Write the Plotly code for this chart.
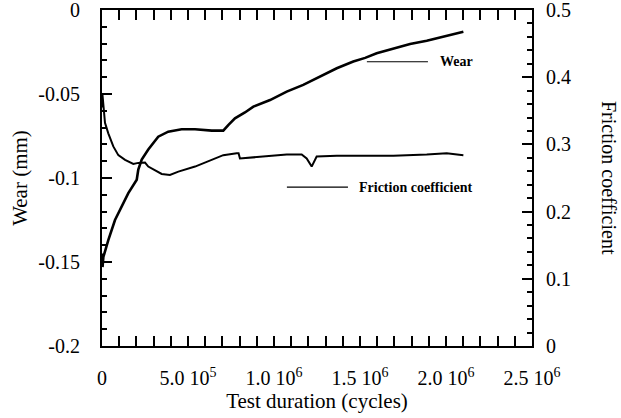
import plotly.graph_objects as go

# ---- data ----
wear_cycles = [0, 3e3, 8e3, 3.66e4, 7.56e4, 1.145e5, 1.53e5, 2.02e5, 2.06e5, 2.11e5, 2.31e5,
               2.69e5, 3.27e5, 3.85e5, 4.63e5, 5.41e5, 6.38e5, 7.05e5, 7.34e5, 7.73e5, 8.31e5,
               8.8e5, 9.77e5, 1.074e6, 1.17e6, 1.267e6, 1.365e6, 1.461e6, 1.53e6, 1.597e6,
               1.694e6, 1.791e6, 1.888e6, 1.984e6, 2.062e6, 2.101e6]
wear_mm = [-0.145, -0.153, -0.147, -0.137, -0.125, -0.117, -0.109, -0.101, -0.097, -0.095,
           -0.089, -0.083, -0.0754, -0.0724, -0.071, -0.071, -0.0718, -0.0718, -0.0685,
           -0.0645, -0.061, -0.0575, -0.0536, -0.0486, -0.0446, -0.0397, -0.0347, -0.0307,
           -0.0285, -0.0258, -0.0228, -0.0202, -0.0183, -0.0159, -0.0139, -0.0129]

friction_cycles = [0, 2e3, 1.74e4, 3.66e4, 6.57e4, 9.48e4, 1.34e5, 1.82e5, 2.11e5, 2.5e5,
                   2.69e5, 3.18e5, 3.47e5, 3.95e5, 4.44e5, 5.41e5, 6.38e5, 7.05e5, 7.83e5,
                   7.94e5, 8.02e5, 8.8e5, 9.77e5, 1.074e6, 1.161e6, 1.19e6, 1.219e6, 1.248e6,
                   1.365e6, 1.548e6, 1.694e6, 1.888e6, 2.004e6, 2.101e6]
friction_coef = [0.355, 0.376, 0.332, 0.3165, 0.297, 0.284, 0.277, 0.271, 0.2725, 0.273,
                 0.267, 0.2595, 0.256, 0.2545, 0.2595, 0.267, 0.277, 0.284, 0.287,
                 0.287, 0.279, 0.281, 0.283, 0.285, 0.285, 0.279, 0.267, 0.282,
                 0.283, 0.283, 0.283, 0.285, 0.287, 0.284]

x_tickvals = [0, 5e5, 1e6, 1.5e6, 2e6, 2.5e6]
x_ticktext = ["0", "5.0 10<sup>5</sup>", "1.0 10<sup>6</sup>", "1.5 10<sup>6</sup>",
              "2.0 10<sup>6</sup>", "2.5 10<sup>6</sup>"]
y_tickvals = [0, -0.05, -0.1, -0.15, -0.2]
y_ticktext = ["0", "-0.05", "-0.1", "-0.15", "-0.2"]
y2_tickvals = [0, 0.1, 0.2, 0.3, 0.4, 0.5]
y2_ticktext = ["0", "0.1", "0.2", "0.3", "0.4", "0.5"]

FONT = "Liberation Serif, Times New Roman, serif"

fig = go.Figure()
fig.add_trace(go.Scatter(x=wear_cycles, y=wear_mm, mode="lines",
                         line=dict(color="black", width=2.6), yaxis="y", showlegend=False))
fig.add_trace(go.Scatter(x=friction_cycles, y=friction_coef, mode="lines",
                         line=dict(color="black", width=2), yaxis="y2", showlegend=False))

axis_common = dict(showline=True, linecolor="black", linewidth=2, ticks="inside",
                   tickcolor="black", tickwidth=1.5, ticklen=10, showgrid=False,
                   zeroline=False, automargin=False, ticklabeloverflow="allow",
                   tickfont=dict(family=FONT, size=20, color="black"))

fig.update_layout(
    width=621, height=418,
    margin=dict(l=102, r=89, t=10, b=72),
    paper_bgcolor="white", plot_bgcolor="white",
    xaxis=dict(range=[0, 2.5e6], tickmode="array", tickvals=x_tickvals, ticktext=x_ticktext,
               mirror="allticks", ticklabelstandoff=13,
               minor=dict(tickmode="linear", tick0=0, dtick=1e5, ticks="inside", ticklen=5,
                          tickcolor="black", tickwidth=1.5),
               title=dict(text="Test duration (cycles)", font=dict(family=FONT, size=21, color="black"),
                          standoff=0),
               **axis_common),
    yaxis=dict(range=[-0.2, 0], tickmode="array", tickvals=y_tickvals, ticktext=y_ticktext,
               ticklabelstandoff=16,
               minor=dict(tickmode="linear", tick0=0, dtick=0.01, ticks="inside", ticklen=5,
                          tickcolor="black", tickwidth=1.5),
               title=dict(text="Wear (mm)", font=dict(family=FONT, size=21, color="black"),
                          standoff=5),
               **axis_common),
    yaxis2=dict(range=[0, 0.5], overlaying="y", side="right", tickmode="array",
                tickvals=y2_tickvals, ticktext=y2_ticktext, ticklabelstandoff=8,
                minor=dict(tickmode="linear", tick0=0, dtick=0.02, ticks="inside", ticklen=5,
                           tickcolor="black", tickwidth=1.5),
                **axis_common),
    annotations=[
        dict(text="Friction coefficient", textangle=90, xref="paper", yref="paper",
             x=1.0, xshift=77, y=0.5, xanchor="center", yanchor="middle", showarrow=False,
             font=dict(family=FONT, size=20, color="black")),
        dict(text="<b>Wear</b>", xref="x", yref="y", x=1.955e6, y=-0.0308, xanchor="left",
             showarrow=False, font=dict(family=FONT, size=14, color="black")),
        dict(text="<b>Friction coefficient</b>", xref="x", yref="y", x=1.48e6, y=-0.1054,
             xanchor="left", showarrow=False, font=dict(family=FONT, size=14, color="black")),
    ],
    shapes=[
        dict(type="line", xref="x", yref="y", x0=1.54e6, x1=1.895e6, y0=-0.0308, y1=-0.0308,
             line=dict(color="black", width=1.2)),
        dict(type="line", xref="x", yref="y", x0=1.075e6, x1=1.43e6, y0=-0.1054, y1=-0.1054,
             line=dict(color="black", width=1.2)),
    ],
)

fig.write_html("out.html", config={"displayModeBar": False},
               post_script="document.body.style.margin='0';")
